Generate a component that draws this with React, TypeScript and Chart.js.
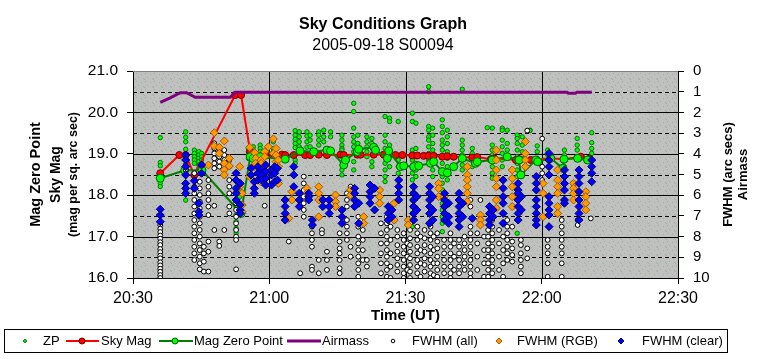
import React, { useEffect, useRef } from "react";
import { Chart, registerables } from "chart.js";

Chart.register(...registerables);

const FONT = '"Liberation Sans", Arial, Helvetica, sans-serif';

const TITLE = "Sky Conditions Graph";
const SUBTITLE = "2005-09-18 S00094";
const X_TITLE = "Time (UT)";
const LEFT_TITLES = ["Mag Zero Point", "Sky Mag", "(mag per sq. arc sec)"];
const RIGHT_TITLES = ["FWHM (arc secs)", "Airmass"];

// time axis in minutes after 00:00 UT
const X_MIN = 1230;
const X_MAX = 1350;
const X_STEP = 30;
const MAG_MIN = 16;
const MAG_MAX = 21;
const FWHM_MIN = 0;
const FWHM_MAX = 10;

// [time (min), sky mag]
const skyMag: [number, number][] = [
  [1236.0, 18.53], [1240.2, 18.97], [1241.6, 18.97], [1243.5, 18.49], [1252.5, 20.42],
  [1253.8, 20.42], [1255.8, 19.05], [1259.1, 18.99], [1261.0, 18.98], [1262.8, 18.98],
  [1263.5, 18.97], [1265.4, 18.97], [1267.9, 18.97], [1269.0, 18.97], [1270.9, 18.98],
  [1272.7, 18.97], [1275.7, 18.98], [1276.4, 18.97], [1279.4, 18.98], [1280.1, 18.98],
  [1283.0, 18.98], [1285.2, 18.98], [1286.3, 18.97], [1287.8, 18.97], [1289.3, 18.97],
  [1291.5, 18.96], [1292.6, 18.96], [1294.0, 18.95], [1295.1, 18.95], [1296.2, 18.95],
  [1298.1, 18.93], [1299.2, 18.94], [1300.6, 18.93], [1304.7, 18.91], [1305.8, 18.92],
  [1308.8, 18.87], [1309.5, 18.89], [1314.3, 18.85], [1315.0, 18.87], [1317.6, 18.85],
  [1322.0, 18.89], [1324.9, 18.87], [1328.6, 18.93], [1330.5, 18.88],
];

// [time (min), mag zero point]
const magZeroPoint: [number, number][] = [
  [1236.0, 18.41], [1241.4, 18.6], [1245.2, 18.6], [1253.8, 17.56], [1255.8, 18.93],
  [1256.5, 18.89], [1258.0, 18.93], [1263.5, 18.87], [1266.8, 19.07], [1269.8, 19.05],
  [1272.7, 19.09], [1273.5, 19.07], [1276.4, 18.73], [1276.8, 18.85], [1279.4, 19.05],
  [1279.7, 19.11], [1283.0, 19.16], [1283.4, 19.09], [1286.0, 18.89], [1286.3, 19.07],
  [1288.9, 18.69], [1289.6, 18.71], [1291.8, 18.69], [1292.9, 18.71], [1295.5, 18.77],
  [1296.2, 18.81], [1298.1, 18.57], [1299.2, 18.54], [1300.6, 18.69], [1302.5, 18.89],
  [1305.4, 18.77], [1305.8, 18.81], [1309.1, 18.85], [1312.4, 18.93], [1315.0, 18.85],
  [1315.4, 18.49], [1318.7, 18.85], [1319.1, 18.81], [1322.0, 18.89], [1324.6, 18.65],
  [1324.9, 18.87], [1327.9, 18.89], [1330.1, 18.85],
];

// [time (min), airmass]
const airmass: [number, number][] = [
  [1236.0, 1.51], [1238.2, 1.3], [1240.4, 1.05], [1241.8, 1.05], [1243.7, 1.27],
  [1251.4, 1.27], [1252.5, 1.03], [1280.0, 1.03], [1310.0, 1.03], [1325.6, 1.03],
  [1325.9, 1.08], [1327.4, 1.08], [1327.7, 1.03], [1331.0, 1.03],
];

// [time (min), ZP values at that time]
const zpColumns: [number, number[]][] = [
  [1236.0, [19.39, 18.79, 18.71, 18.29, 18.21]],
  [1241.6, [19.53, 19.4, 19.29, 19.11, 18.87, 18.67, 17.88]],
  [1243.5, [19.09, 19.01, 18.93, 18.85, 18.77]],
  [1244.5, [19.05, 18.97, 18.89, 18.81, 18.73, 18.65]],
  [1245.1, [19.01, 18.93, 18.85, 18.77, 18.69, 18.61, 18.53]],
  [1252.7, [18.05, 17.88, 17.72, 17.52, 17.36, 17.2, 17.08]],
  [1253.5, [18.13, 17.96, 17.8]],
  [1255.4, [19.13, 19.05, 18.97, 18.89]],
  [1256.5, [19.17, 19.09, 19.01, 18.93, 18.85]],
  [1258.0, [19.21, 19.13, 19.05, 18.97]],
  [1259.5, [19.09, 19.01, 18.93]],
  [1260.9, [19.29, 19.13, 19.05, 18.97]],
  [1265.7, [19.56, 19.45, 19.35, 19.25, 19.15, 18.85, 18.77]],
  [1266.6, [19.53, 19.41, 19.29, 19.17]],
  [1268.3, [19.53, 19.43, 19.29, 19.16]],
  [1269.0, [19.45, 19.33, 19.17]],
  [1270.9, [19.53, 19.45, 19.33, 19.21]],
  [1272.0, [19.57, 19.41, 19.29]],
  [1273.5, [19.53, 19.41]],
  [1276.0, [19.45, 19.33, 19.21, 19.13, 19.09, 18.61, 18.49]],
  [1278.6, [20.22, 20.02, 19.62, 19.41, 19.29, 19.17, 19.05, 18.81, 18.61]],
  [1279.5, [19.45, 19.25, 19.13]],
  [1281.5, [19.41, 19.29, 19.17, 19.05, 18.93]],
  [1282.6, [19.37, 19.25, 18.81, 18.69]],
  [1285.5, [19.9, 19.45, 19.29, 19.13, 18.93, 18.77, 18.61, 18.45, 18.33]],
  [1286.5, [19.86, 19.78, 19.21, 19.05, 18.69]],
  [1288.4, [19.78, 18.85, 18.69, 18.53, 18.37]],
  [1291.5, [19.98, 19.78, 19.09, 18.97, 18.85, 18.69, 18.53, 18.37, 18.21, 18.05, 17.88, 17.72, 17.56, 17.4, 17.24]],
  [1292.3, [19.74, 19.13, 18.93, 18.77, 18.61, 18.45]],
  [1295.1, [20.62, 20.5, 19.66, 19.57, 19.41, 19.33, 19.17, 19.01, 18.85]],
  [1296.0, [19.62, 19.45, 19.25, 19.09, 18.93, 18.77, 18.61, 18.45]],
  [1298.1, [19.82, 19.66, 19.51, 19.33, 19.21, 19.09, 18.93, 18.77, 18.61, 18.45, 18.29, 18.13, 17.96, 17.8, 17.64, 17.48, 17.32, 17.12]],
  [1299.2, [19.57, 19.41, 19.25, 19.05, 18.89, 18.69, 18.53, 18.37]],
  [1302.5, [20.56, 19.33, 19.21, 19.09, 18.97, 18.85, 18.73, 18.61]],
  [1304.7, [19.13, 19.01, 18.85, 18.69]],
  [1308.0, [19.63]],
  [1309.1, [19.62, 19.21, 19.09, 18.97, 18.85, 18.69, 18.53, 18.41]],
  [1311.3, [19.62, 19.57, 19.33, 19.17, 19.01, 18.85, 18.69]],
  [1312.4, [19.57, 19.25, 19.09]],
  [1314.6, [19.45, 19.37, 19.25, 19.09, 18.93, 18.77, 18.61, 18.45, 17.08]],
  [1315.7, [19.41, 19.21, 19.05, 18.89]],
  [1317.4, [19.57, 19.56]],
  [1319.0, [19.19, 19.05, 18.89]],
  [1321.3, [19.09, 18.97, 18.85]],
  [1325.0, [19.09, 18.97, 18.85, 18.69]],
  [1327.8, [19.37, 19.21, 19.09, 18.93]],
  [1331.0, [19.51, 19.27, 19.13, 19.01]],
];

// [time (min), FWHM (all) values]
const fwhmAllColumns: [number, number[]][] = [
  [1236.0, [7.44, 7.62, 7.78, 7.95, 8.1, 8.27, 8.41, 8.6, 8.75, 8.92, 9.05, 9.24, 9.39, 9.55, 9.7, 9.86, 10.0]],
  [1241.6, [4.3, 4.54, 4.78]],
  [1243.5, [4.94, 5.27, 5.59, 5.91, 6.23, 6.55, 6.88, 7.2, 7.52, 7.84, 8.16, 8.49, 8.81, 9.13]],
  [1244.7, [5.35, 5.67, 5.99, 6.31, 6.63, 7.04, 7.36, 7.68, 8.0, 8.33, 8.65, 8.97, 9.29, 9.58]],
  [1245.6, [8.49, 8.81, 9.21, 9.69]],
  [1246.6, [5.27, 5.59, 5.91, 6.23, 6.55, 6.96, 8.24, 8.73, 9.69]],
  [1247.9, [3.49, 3.74, 3.98, 4.22, 4.46, 4.7, 6.51, 7.68]],
  [1249.0, [3.66, 3.9, 4.14, 4.38, 4.62, 8.24, 8.45]],
  [1250.1, [3.82, 4.06, 4.3, 7.68]],
  [1251.2, [4.3, 4.62, 5.27, 5.59, 5.91, 6.55, 6.88]],
  [1252.7, [6.39, 6.71, 7.04, 7.36, 7.68, 8.0, 8.16, 9.58]],
  [1259.0, [6.51]],
  [1264.3, [8.24]],
  [1266.8, [9.77]],
  [1267.6, [5.1, 5.43, 5.75, 6.07, 6.39, 6.71, 7.04]],
  [1269.4, [7.52, 7.84, 8.16, 8.49, 9.45, 9.61]],
  [1270.9, [9.13, 9.77]],
  [1271.6, [7.68, 7.84]],
  [1272.7, [8.73, 9.13, 9.61]],
  [1275.5, [7.84, 8.24, 8.57, 8.81, 9.13, 9.53, 9.77]],
  [1277.1, [5.91, 6.23, 6.55, 7.2, 7.52, 7.84, 8.16]],
  [1277.9, [5.59, 5.91, 8.49, 8.97]],
  [1279.6, [7.04, 7.52, 8.0, 8.33, 8.65, 8.97, 9.29, 9.61, 9.94]],
  [1280.6, [7.68, 8.16, 8.65, 9.13]],
  [1281.5, [9.13, 9.45]],
  [1284.6, [7.36, 7.84, 8.33, 8.81, 9.29, 9.77]],
  [1285.9, [7.04, 7.36, 7.68, 8.0, 8.33, 8.65, 8.97, 9.29, 9.61, 9.94]],
  [1286.7, [7.52, 8.16, 8.81, 9.45, 10.0]],
  [1288.2, [7.68, 8.0, 8.41, 8.73, 9.05, 9.37, 9.69]],
  [1289.6, [7.84, 8.16, 8.49, 8.81, 9.13, 9.45, 9.77, 10.0]],
  [1290.4, [8.33, 8.97, 9.61]],
  [1291.0, [7.36, 7.68, 8.08, 8.41, 8.73, 9.05, 9.37, 9.69, 10.0]],
  [1292.6, [7.52, 7.84, 8.16, 8.49, 8.81, 9.13, 9.45, 9.77]],
  [1293.3, [8.0, 8.65, 9.29, 9.94]],
  [1294.2, [7.68, 8.08, 8.41, 8.73, 9.05, 9.37, 9.69]],
  [1295.5, [7.52, 7.84, 8.16, 8.49, 8.81, 9.13, 9.45, 9.77, 10.0]],
  [1296.2, [8.0, 8.65, 9.29, 9.86]],
  [1297.0, [7.84, 8.24, 8.57, 8.97, 9.29, 9.61, 9.94]],
  [1298.5, [8.16, 8.49, 8.81, 9.13, 9.45, 9.77]],
  [1299.9, [7.84, 8.16, 8.49, 8.81, 9.13, 9.45, 9.77, 10.0]],
  [1300.7, [8.33, 8.97, 9.61]],
  [1301.8, [7.52, 8.16, 8.49, 8.81, 9.13, 9.45, 9.77]],
  [1303.0, [8.0, 8.33, 8.65, 8.97, 9.29, 9.61]],
  [1304.3, [6.23, 6.55, 7.52, 7.84, 8.16, 8.49, 8.81, 9.13, 9.45, 9.77, 10.0]],
  [1305.8, [7.84, 8.33, 8.97, 9.61]],
  [1306.5, [6.23]],
  [1307.3, [8.0, 8.65, 9.29, 9.94]],
  [1308.2, [7.68, 8.0, 8.33, 8.65, 8.97, 9.29, 9.61, 9.94]],
  [1309.1, [6.71, 7.2, 7.52, 7.84, 8.16, 8.49, 8.81, 9.13, 9.45, 9.77]],
  [1310.6, [7.68, 8.33, 8.97, 9.61]],
  [1311.5, [7.36, 8.0, 8.65, 9.29, 9.94]],
  [1312.4, [7.2, 7.52, 7.84, 8.16, 8.49, 8.81, 9.13]],
  [1313.5, [7.52, 8.24, 8.57, 8.89, 9.21]],
  [1315.4, [8.16, 8.41, 8.81, 9.13, 9.45, 9.77]],
  [1316.8, [2.88, 8.57, 9.05]],
  [1320.1, [3.27, 4.62, 4.94, 5.27]],
  [1321.3, [8.16, 8.49, 8.81, 9.29, 9.94]],
  [1324.4, [7.2, 7.52, 7.84, 8.16, 8.49, 8.81, 9.29, 9.94]],
  [1327.9, [7.2, 7.44]],
  [1330.8, [7.12]],
];

// [time (min), FWHM (RGB) values]
const fwhmRgbColumns: [number, number[]][] = [
  [1246.6, [4.54]],
  [1247.9, [2.98, 3.62]],
  [1249.0, [3.69, 3.98]],
  [1250.1, [3.38, 4.46, 4.78, 5.02]],
  [1251.2, [4.22, 4.59]],
  [1253.5, [4.62, 5.59]],
  [1254.0, [5.91, 6.47, 6.8]],
  [1255.7, [3.69, 5.1]],
  [1256.8, [3.95, 4.62]],
  [1257.0, [4.22, 4.46]],
  [1258.2, [4.3, 4.46, 5.35]],
  [1259.0, [3.9, 4.14]],
  [1259.8, [3.66, 4.78, 4.94]],
  [1260.9, [3.28, 3.98]],
  [1261.5, [3.74, 4.06, 4.38]],
  [1262.0, [4.3, 4.62, 5.43]],
  [1264.3, [7.12]],
  [1265.0, [5.83, 6.23]],
  [1268.3, [5.67, 5.91]],
  [1270.9, [5.59, 5.91, 6.23, 7.04]],
  [1274.6, [5.99, 6.31, 6.55]],
  [1277.9, [5.75, 5.99]],
  [1280.8, [7.04, 7.36]],
  [1284.3, [5.75, 6.07, 6.39]],
  [1287.5, [6.39, 7.2]],
  [1290.6, [7.2, 7.44]],
  [1297.3, [5.43, 5.67, 6.07]],
  [1298.5, [6.07, 6.55]],
  [1303.6, [4.62, 5.02, 5.27, 5.59, 5.91, 6.31]],
  [1306.5, [6.96, 7.2, 7.44]],
  [1310.0, [3.82, 4.3, 4.78, 5.19, 5.59, 6.23, 6.63]],
  [1313.5, [4.78, 5.19, 5.59, 6.07, 6.55]],
  [1316.4, [3.41, 3.98, 4.3, 4.62]],
  [1320.3, [5.43, 5.91, 7.04]],
  [1323.5, [4.78, 5.27, 5.59, 5.91, 6.55, 6.88]],
  [1327.0, [5.43, 5.67, 5.91, 6.23]],
  [1329.7, [5.83, 6.07, 6.39, 6.71]],
];

// [time (min), FWHM (clear) values]
const fwhmClearColumns: [number, number[]][] = [
  [1236.0, [6.68, 6.96, 7.28]],
  [1241.6, [4.06, 4.3, 4.62, 5.02, 5.43, 5.67, 5.91]],
  [1243.5, [5.3, 5.67]],
  [1244.5, [6.39, 6.8, 6.96]],
  [1245.1, [4.54, 4.94]],
  [1252.7, [4.94, 5.27, 5.67, 5.91, 6.23]],
  [1253.6, [5.43, 6.47, 6.72, 6.88]],
  [1256.0, [4.7, 5.02]],
  [1256.7, [5.35, 5.67, 5.91]],
  [1257.5, [4.62, 4.94, 5.27]],
  [1258.3, [4.78, 5.02, 5.27]],
  [1259.2, [4.54, 4.86, 5.19, 5.51]],
  [1260.5, [4.78, 5.02, 5.51]],
  [1261.2, [4.62, 4.94, 5.35]],
  [1261.8, [4.7, 5.27]],
  [1263.5, [6.23, 6.55, 6.88, 7.2]],
  [1265.4, [4.62, 5.02, 5.59]],
  [1266.6, [5.91, 6.23, 6.55]],
  [1268.7, [5.91, 6.07, 6.23]],
  [1269.5, [7.2, 7.44]],
  [1271.8, [6.23, 6.55]],
  [1273.2, [6.23, 6.55, 6.88]],
  [1276.0, [6.71, 7.04, 7.36]],
  [1278.8, [5.67, 5.91, 6.23, 6.55]],
  [1279.7, [6.39, 7.36]],
  [1282.2, [5.51, 5.83, 6.07, 6.39]],
  [1283.2, [5.67, 6.71]],
  [1286.2, [6.55, 6.88, 7.2]],
  [1287.0, [6.71, 7.04]],
  [1288.5, [5.27, 5.59, 5.91, 6.23]],
  [1291.8, [5.59, 5.91, 6.23, 6.55, 6.88, 7.2]],
  [1292.5, [6.07, 6.71]],
  [1295.3, [5.59, 5.91, 6.23, 6.55, 6.88, 7.36]],
  [1296.0, [6.07, 6.71, 7.2]],
  [1298.6, [5.91, 6.23, 6.55, 6.88, 7.2]],
  [1299.5, [6.39, 7.04, 7.36]],
  [1301.8, [5.91, 6.23, 6.55, 6.88, 7.2, 7.52]],
  [1302.6, [6.39, 7.04]],
  [1304.7, [7.12]],
  [1308.5, [6.55, 6.88, 7.2, 7.44]],
  [1309.3, [6.71, 7.04]],
  [1311.5, [5.27, 5.67, 6.07, 6.39, 6.88, 7.36]],
  [1314.8, [5.43, 5.75, 5.91, 6.23, 6.55, 6.88, 7.2]],
  [1315.5, [6.07, 6.71]],
  [1318.8, [5.1, 5.43, 5.75, 6.23, 6.55, 6.88, 7.2, 7.44]],
  [1321.6, [3.98, 4.3, 4.62, 5.02, 6.07, 6.39, 6.71, 6.96, 7.52]],
  [1325.0, [4.78, 5.1, 5.43, 5.75, 6.23, 6.39]],
  [1328.2, [4.78, 5.1, 5.43, 5.83, 6.23, 6.55, 6.88, 7.2]],
  [1331.0, [4.3, 4.62, 4.94, 5.35]],
];

const pairsToPoints = (pairs: [number, number][]) => pairs.map(([x, y]) => ({ x, y }));
const columnsToPoints = (cols: [number, number[]][]) =>
  cols.flatMap(([x, ys]) => ys.map((y) => ({ x, y })));

const fmtTime = (v: number) => {
  const h = Math.floor(v / 60);
  const m = Math.round(v - h * 60);
  return `${h}:${m < 10 ? "0" : ""}${m}`;
};

const COLORS = {
  zpFill: "#00FF00",
  zpBorder: "#107010",
  sky: "#FF0000",
  skyBorder: "#700000",
  mzpLine: "#008000",
  mzpFill: "#00FF00",
  mzpBorder: "#006000",
  airmass: "#800080",
  rgbFill: "#FF9900",
  rgbBorder: "#A05A00",
  clearFill: "#0000FF",
  clearBorder: "#000060",
};

function drawDiamond(ctx: CanvasRenderingContext2D, x: number, y: number, r: number, fill: string, stroke: string) {
  ctx.beginPath();
  ctx.moveTo(x, y - r);
  ctx.lineTo(x + r, y);
  ctx.lineTo(x, y + r);
  ctx.lineTo(x - r, y);
  ctx.closePath();
  ctx.fillStyle = fill;
  ctx.fill();
  ctx.strokeStyle = stroke;
  ctx.lineWidth = 1;
  ctx.stroke();
}

function drawCircle(ctx: CanvasRenderingContext2D, x: number, y: number, r: number, fill: string, stroke: string) {
  ctx.beginPath();
  ctx.arc(x, y, r, 0, Math.PI * 2);
  ctx.fillStyle = fill;
  ctx.fill();
  ctx.strokeStyle = stroke;
  ctx.lineWidth = 1;
  ctx.stroke();
}

const decorPlugin = {
  id: "decor",
  beforeDraw(chart: any) {
    const { ctx, chartArea: a } = chart;
    ctx.save();
    const tile = document.createElement("canvas");
    tile.width = 9;
    tile.height = 8;
    const t = tile.getContext("2d")!;
    t.fillStyle = "#C0C0C0";
    t.fillRect(0, 0, 9, 8);
    t.fillStyle = "#94B894";
    [[1, 1], [6, 2], [3, 5], [8, 6], [0, 7]].forEach(([px, py]) => t.fillRect(px, py, 1, 1));
    ctx.fillStyle = ctx.createPattern(tile, "repeat");
    ctx.fillRect(a.left, a.top, a.right - a.left, a.bottom - a.top);
    ctx.restore();
  },
  beforeDatasetsDraw(chart: any) {
    const { ctx, chartArea: a, scales } = chart;
    const y2 = scales.y2;
    const x = scales.x;
    ctx.save();
    ctx.lineWidth = 1;
    for (let v = FWHM_MIN + 1; v < FWHM_MAX; v++) {
      const py = Math.round(y2.getPixelForValue(v)) + 0.5;
      ctx.strokeStyle = "#000";
      ctx.setLineDash(v % 2 === 0 ? [] : [4, 3]);
      ctx.beginPath();
      ctx.moveTo(a.left, py);
      ctx.lineTo(a.right, py);
      ctx.stroke();
    }
    ctx.setLineDash([]);
    for (let v = X_MIN + X_STEP; v < X_MAX; v += X_STEP) {
      const px = Math.round(x.getPixelForValue(v)) + 0.5;
      ctx.beginPath();
      ctx.moveTo(px, a.top);
      ctx.lineTo(px, a.bottom);
      ctx.stroke();
    }
    ctx.strokeStyle = "#808080";
    ctx.beginPath();
    ctx.moveTo(a.left, a.top + 0.5);
    ctx.lineTo(a.right, a.top + 0.5);
    ctx.stroke();
    ctx.restore();
  },
  afterDraw(chart: any) {
    const { ctx, chartArea: a } = chart;
    ctx.save();
    ctx.fillStyle = "#000";
    ctx.textAlign = "center";
    ctx.textBaseline = "middle";
    const cx = 383;
    ctx.font = `bold 16px ${FONT}`;
    ctx.fillText(TITLE, cx, 25);
    ctx.font = `16px ${FONT}`;
    ctx.fillText(SUBTITLE, cx, 46);
    ctx.font = `bold 15px ${FONT}`;
    ctx.fillText(X_TITLE, (a.left + a.right) / 2, 316);

    const midY = (a.top + a.bottom) / 2;
    const rot = (text: string, x: number, font: string) => {
      ctx.save();
      ctx.translate(x, midY);
      ctx.rotate(-Math.PI / 2);
      ctx.font = font;
      ctx.fillText(text, 0, 0);
      ctx.restore();
    };
    rot(LEFT_TITLES[0], 36, `bold 14.5px ${FONT}`);
    rot(LEFT_TITLES[1], 56, `bold 14px ${FONT}`);
    rot(LEFT_TITLES[2], 74, `bold 12.5px ${FONT}`);
    rot(RIGHT_TITLES[0], 728, `bold 13px ${FONT}`);
    rot(RIGHT_TITLES[1], 743, `bold 13px ${FONT}`);

    // legend
    ctx.strokeStyle = "#000";
    ctx.lineWidth = 1;
    ctx.strokeRect(4.5, 329.5, 723, 23);
    const ly = 341;
    ctx.textAlign = "left";
    ctx.font = `13px ${FONT}`;
    const line = (x1: number, x2: number, color: string, w: number) => {
      ctx.strokeStyle = color;
      ctx.lineWidth = w;
      ctx.beginPath();
      ctx.moveTo(x1, ly);
      ctx.lineTo(x2, ly);
      ctx.stroke();
    };
    drawCircle(ctx, 25, ly, 1.5, COLORS.zpFill, COLORS.zpBorder);
    ctx.fillStyle = "#000";
    ctx.fillText("ZP", 43, ly);
    line(66, 99, COLORS.sky, 2);
    drawCircle(ctx, 82, ly, 3, COLORS.sky, COLORS.skyBorder);
    ctx.fillStyle = "#000";
    ctx.fillText("Sky Mag", 101, ly);
    line(159, 193, COLORS.mzpLine, 2);
    drawCircle(ctx, 175, ly, 3, COLORS.mzpFill, COLORS.mzpBorder);
    ctx.fillStyle = "#000";
    ctx.fillText("Mag Zero Point", 194, ly);
    line(287, 321, COLORS.airmass, 3);
    ctx.fillStyle = "#000";
    ctx.fillText("Airmass", 322, ly);
    drawCircle(ctx, 393, ly, 1.8, "#FFFFFF", "#000");
    ctx.fillStyle = "#000";
    ctx.fillText("FWHM (all)", 412, ly);
    drawDiamond(ctx, 499, ly, 3, COLORS.rgbFill, COLORS.rgbBorder);
    ctx.fillStyle = "#000";
    ctx.fillText("FWHM (RGB)", 517, ly);
    drawDiamond(ctx, 621, ly, 3, COLORS.clearFill, COLORS.clearBorder);
    ctx.fillStyle = "#000";
    ctx.fillText("FWHM (clear)", 642, ly);
    ctx.restore();
  },
};

export default function App() {
  const canvasRef = useRef<HTMLCanvasElement | null>(null);

  useEffect(() => {
    document.body.style.margin = "0";
    const canvas = canvasRef.current;
    if (!canvas) return;
    const chart = new Chart(canvas, {
      type: "scatter",
      data: {
        datasets: [
          {
            label: "ZP",
            data: columnsToPoints(zpColumns),
            yAxisID: "y",
            pointRadius: 2.2,
            pointBackgroundColor: COLORS.zpFill,
            pointBorderColor: COLORS.zpBorder,
            pointBorderWidth: 1,
            showLine: false,
            order: 7,
          },
          {
            label: "Sky Mag",
            data: pairsToPoints(skyMag),
            yAxisID: "y",
            showLine: true,
            borderColor: COLORS.sky,
            borderWidth: 2,
            pointRadius: 3.5,
            pointBackgroundColor: COLORS.sky,
            pointBorderColor: COLORS.skyBorder,
            pointBorderWidth: 1,
            tension: 0,
            order: 6,
          },
          {
            label: "Mag Zero Point",
            data: pairsToPoints(magZeroPoint),
            yAxisID: "y",
            showLine: true,
            borderColor: COLORS.mzpLine,
            borderWidth: 2,
            pointRadius: 4,
            pointBackgroundColor: COLORS.mzpFill,
            pointBorderColor: COLORS.mzpBorder,
            pointBorderWidth: 1,
            tension: 0,
            order: 5,
          },
          {
            label: "Airmass",
            data: pairsToPoints(airmass),
            yAxisID: "y2",
            showLine: true,
            borderColor: COLORS.airmass,
            borderWidth: 3,
            pointRadius: 0,
            tension: 0,
            order: 4,
          },
          {
            label: "FWHM (all)",
            data: columnsToPoints(fwhmAllColumns),
            yAxisID: "y2",
            pointRadius: 2.4,
            pointBackgroundColor: "#FFFFFF",
            pointBorderColor: "#000000",
            pointBorderWidth: 1,
            showLine: false,
            order: 3,
          },
          {
            label: "FWHM (RGB)",
            data: columnsToPoints(fwhmRgbColumns),
            yAxisID: "y2",
            pointStyle: "rectRot",
            pointRadius: 4,
            pointBackgroundColor: COLORS.rgbFill,
            pointBorderColor: COLORS.rgbBorder,
            pointBorderWidth: 1,
            showLine: false,
            order: 2,
          },
          {
            label: "FWHM (clear)",
            data: columnsToPoints(fwhmClearColumns),
            yAxisID: "y2",
            pointStyle: "rectRot",
            pointRadius: 4,
            pointBackgroundColor: COLORS.clearFill,
            pointBorderColor: COLORS.clearBorder,
            pointBorderWidth: 1,
            showLine: false,
            order: 1,
          },
        ],
      },
      options: {
        responsive: false,
        animation: false,
        events: [],
        layout: { padding: { left: 0, right: 0, top: 71, bottom: 0 } },
        plugins: {
          legend: { display: false },
          title: { display: false },
          tooltip: { enabled: false },
        },
        scales: {
          x: {
            type: "linear",
            min: X_MIN,
            max: X_MAX,
            ticks: {
              stepSize: X_STEP,
              color: "#000",
              font: { family: FONT, size: 16 },
              padding: 5,
              maxRotation: 0,
              autoSkip: false,
              callback: (v: any) => fmtTime(Number(v)),
            },
            grid: { drawOnChartArea: false, color: "#000", tickLength: 6 },
            border: { color: "#000", width: 1 },
            afterFit: (s: any) => {
              s.height = 81;
            },
          },
          y: {
            type: "linear",
            position: "left",
            min: MAG_MIN,
            max: MAG_MAX,
            ticks: {
              stepSize: 1,
              color: "#000",
              font: { family: FONT, size: 15.5 },
              padding: 9,
              autoSkip: false,
              callback: (v: any) => Number(v).toFixed(1),
            },
            grid: { drawOnChartArea: false, color: "#000", tickLength: 6 },
            border: { color: "#000", width: 1 },
            afterFit: (s: any) => {
              s.width = 133;
            },
          },
          y2: {
            type: "linear",
            position: "right",
            reverse: true,
            min: FWHM_MIN,
            max: FWHM_MAX,
            ticks: {
              stepSize: 1,
              color: "#000",
              font: { family: FONT, size: 15 },
              padding: 9,
              autoSkip: false,
            },
            grid: { drawOnChartArea: false, color: "#000", tickLength: 6 },
            border: { color: "#000", width: 1 },
            afterFit: (s: any) => {
              s.width = 88;
            },
          },
        },
      },
      plugins: [decorPlugin],
    } as any);
    return () => chart.destroy();
  }, []);

  return (
    <div style={{ position: "absolute", left: 0, top: 0, width: 766, height: 359, background: "#fff" }}>
      <canvas ref={canvasRef} width={766} height={359} style={{ width: 766, height: 359, display: "block" }} />
    </div>
  );
}
